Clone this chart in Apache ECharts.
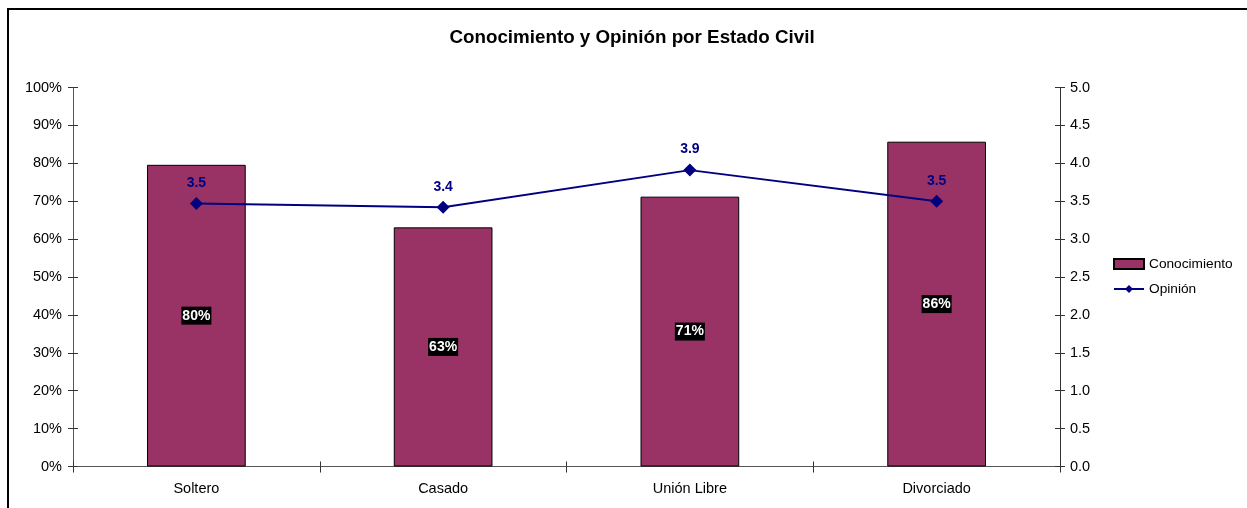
<!DOCTYPE html>
<html>
<head>
<meta charset="utf-8">
<script src="https://cdn.jsdelivr.net/npm/echarts@6/dist/echarts.min.js"></script>
<style>
  html, body { margin: 0; padding: 0; background: #fff; }
  #chart { width: 1247px; height: 508px; }
</style>
</head>
<body>
<div id="chart"></div>
<script>
// Categories and series values
const categories = ['Soltero', 'Casado', 'Unión Libre', 'Divorciado'];
const conocimiento = [79.6, 63.1, 71.2, 85.7];   // percent
const opinion = [3.47, 3.42, 3.91, 3.50];         // score 0–5

const FONT = '"Liberation Sans", Arial, sans-serif';
const AXIS_FONT = 14.5;
const chart = echarts.init(document.getElementById('chart'));

// Tick-only companion axes make the ticks cross their axis lines
const tickOnly = (extra) => Object.assign({
  axisLine: { show: false },
  axisLabel: { show: false },
  splitLine: { show: false },
  axisTick: { show: true, inside: true, length: 5, lineStyle: { color: '#333' } }
}, extra);

chart.setOption({
  animation: false,
  backgroundColor: '#ffffff',
  textStyle: { fontFamily: FONT },
  title: {
    text: 'Conocimiento y Opinión por Estado Civil',
    left: 627, top: 23, textAlign: 'center',
    textStyle: { fontFamily: FONT, fontSize: 18.8, fontWeight: 'bold', color: '#000' }
  },
  graphic: [{
    type: 'rect', silent: true, z: -1,
    shape: { x: 8, y: 9, width: 1400, height: 700 },
    style: { fill: 'none', stroke: '#000', lineWidth: 2 }
  }],
  legend: {
    orient: 'vertical', left: 1108, top: 252, itemGap: 11,
    itemWidth: 30, itemHeight: 10,
    textStyle: { fontFamily: FONT, fontSize: 13.7, color: '#000' },
    data: [
      { name: 'Conocimiento', icon: 'rect' },
      { name: 'Opinión' }
    ]
  },
  grid: { left: 73, right: 187, top: 87.5, bottom: 41.5 },
  xAxis: [{
    type: 'category', data: categories,
    axisLine: { lineStyle: { color: '#555', width: 1 } },
    axisTick: { show: true, length: 6, lineStyle: { color: '#333' } },
    axisLabel: { fontFamily: FONT, fontSize: AXIS_FONT, color: '#000', margin: 15 }
  }, tickOnly({
    type: 'category', data: categories, position: 'bottom'
  })],
  yAxis: [{
    type: 'value', min: 0, max: 100, interval: 10,
    axisLine: { show: true, lineStyle: { color: '#555' } },
    axisTick: { show: true, length: 5, lineStyle: { color: '#333' } },
    splitLine: { show: false },
    axisLabel: { fontFamily: FONT, fontSize: AXIS_FONT, color: '#000', margin: 11, formatter: v => v + '%' }
  }, {
    type: 'value', min: 0, max: 5, interval: 0.5, position: 'right',
    axisLine: { show: true, lineStyle: { color: '#333' } },
    axisTick: { show: true, length: 5, lineStyle: { color: '#333' } },
    splitLine: { show: false },
    axisLabel: { fontFamily: FONT, fontSize: AXIS_FONT, color: '#000', margin: 10, formatter: v => v.toFixed(1) }
  }, tickOnly({
    type: 'value', min: 0, max: 100, interval: 10, position: 'left'
  }), tickOnly({
    type: 'value', min: 0, max: 5, interval: 0.5, position: 'right'
  })],
  series: [{
    name: 'Conocimiento', type: 'bar', yAxisIndex: 0,
    data: conocimiento, barWidth: '40%',
    itemStyle: { color: '#993366', borderColor: '#000', borderWidth: 1 },
    label: {
      show: true, position: 'inside',
      formatter: p => Math.round(p.value) + '%',
      fontFamily: FONT, fontSize: 14, fontWeight: 'bold', color: '#fff',
      backgroundColor: '#000', padding: [2, 1, 2, 1]
    }
  }, {
    name: 'Opinión', type: 'line', yAxisIndex: 1,
    data: opinion,
    symbol: 'diamond', symbolSize: 13,
    lineStyle: { color: '#000080', width: 2 },
    itemStyle: { color: '#000080' },
    label: {
      show: true, position: 'top', distance: 7,
      formatter: p => p.value.toFixed(1),
      fontFamily: FONT, fontSize: 14, fontWeight: 'bold', color: '#000080'
    }
  }]
});
</script>
</body>
</html>
